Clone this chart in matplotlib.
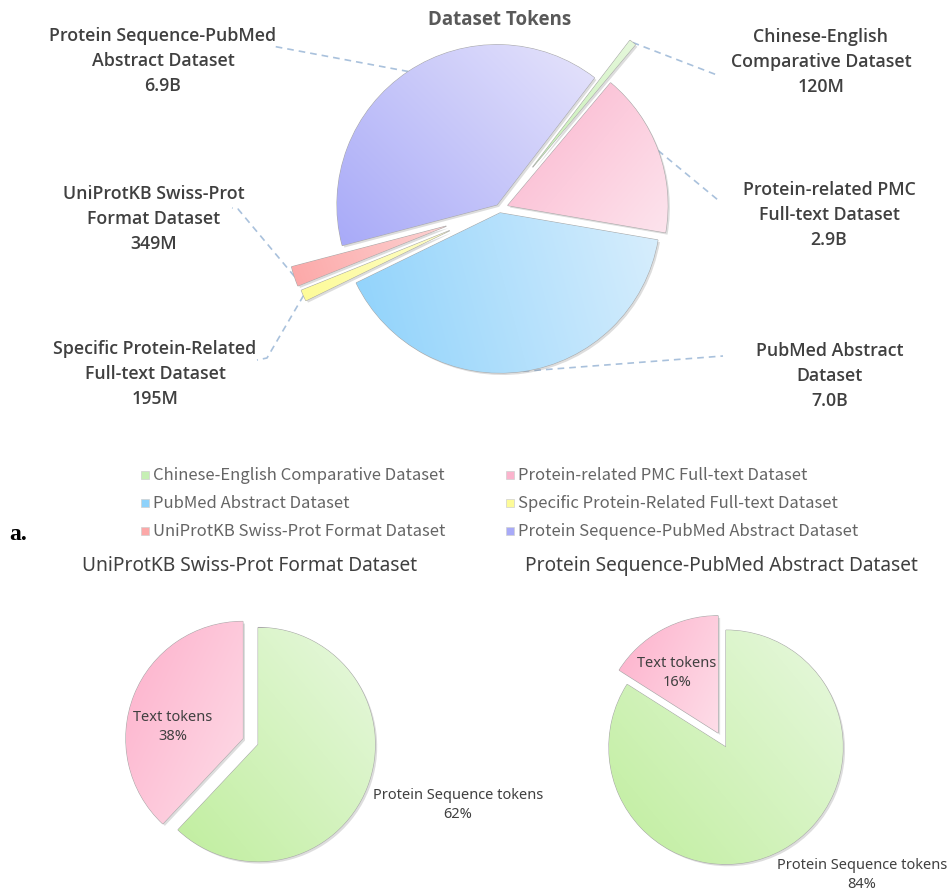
import numpy as np
import matplotlib
matplotlib.use('Agg')
import matplotlib.pyplot as plt
from matplotlib import patheffects as pe
from matplotlib.colors import to_rgb
from matplotlib.patches import Rectangle

plt.rcParams['font.family'] = ['Noto Sans CJK SC', 'DejaVu Sans']

# ---------------- data ----------------
datasets = ["Chinese-English Comparative Dataset",
            "Protein-related PMC Full-text Dataset",
            "PubMed Abstract Dataset",
            "Specific Protein-Related Full-text Dataset",
            "UniProtKB Swiss-Prot Format Dataset",
            "Protein Sequence-PubMed Abstract Dataset"]
tokens_billion = [0.12, 2.9, 7.0, 0.195, 0.349, 6.9]
token_labels = ["120M", "2.9B", "7.0B", "195M", "349M", "6.9B"]
label_names = ["Chinese-English\nComparative Dataset",
               "Protein-related PMC\nFull-text Dataset",
               "PubMed Abstract\nDataset",
               "Specific Protein-Related\nFull-text Dataset",
               "UniProtKB Swiss-Prot\nFormat Dataset",
               "Protein Sequence-PubMed\nAbstract Dataset"]

split_categories = ["Text tokens", "Protein Sequence tokens"]
uniprot_split = [38, 62]
psp_split = [16, 84]
split_titles = ["UniProtKB Swiss-Prot Format Dataset",
                "Protein Sequence-PubMed Abstract Dataset"]

# ---------------- style ----------------
H = 892
def Y(y):
    return H - y

dark_top = ['#c6efb4', '#fbb4cd', '#8ed2fb', '#fdfb98', '#fca8a8', '#a8aaf8']
light_top = ['#e6f8dc', '#fde4ed', '#d8eefd', '#fefdc8', '#fdd2d2', '#e6e4fb']
grad_ang_top = [45, -40, 15, 20, 20, 45]
explode_top = [0.33, 0.055, 0.028, 0.34, 0.35, 0.028]
top_center = (499.5, Y(208.5))
top_r = 160

label_pos = [(821, 61), (829, 214), (830, 375), (155, 373), (154, 218), (163, 60)]
line_ends = [[(717, 75)], [(718, 200)], [(723, 356)], [(267, 358), (257, 360)],
             [(238, 209), (232, 208)], [(272, 46)]]

split_dark = ['#fdb0cb', '#c0ee9e']
split_light = ['#fedde8', '#e8f8df']
split_ang = [-25, 40]

text_col = '#404040'
latin = ['Noto Sans', 'DejaVu Sans']
latin_bold = ['Open Sans', 'DejaVu Sans']

fig = plt.figure(figsize=(9.52, 8.92), dpi=100)
ax = fig.add_axes([0, 0, 1, 1])

shadow = [pe.SimplePatchShadow(offset=(1.5, -1.5), shadow_rgbFace='#666666', alpha=0.22), pe.Normal()]
wp = dict(edgecolor='#ababab', linewidth=0.8, path_effects=shadow)


def grad_fill(w, c1, c2, ang, z=3):
    ext = w.get_path().get_extents()
    x0, y0, x1, y1 = ext.x0, ext.y0, ext.x1, ext.y1
    n = 160
    X, Yg = np.meshgrid(np.linspace(x0, x1, n), np.linspace(y0, y1, n))
    a = np.radians(ang)
    t = X * np.cos(a) + Yg * np.sin(a)
    t = (t - t.min()) / max(t.max() - t.min(), 1e-9)
    rgb = (1 - t)[..., None] * np.array(to_rgb(c1)) + t[..., None] * np.array(to_rgb(c2))
    im = ax.imshow(rgb, extent=(x0, x1, y0, y1), origin='lower', zorder=z,
                   interpolation='bilinear', aspect='auto')
    im.set_clip_path(w)


def explode(wedges, fracs, center, r):
    for w, e in zip(wedges, fracs):
        m = np.radians((w.theta1 + w.theta2) / 2)
        w.set_center((center[0] + e * r * np.cos(m), center[1] + e * r * np.sin(m)))


# ---------------- top pie ----------------
wedges, _ = ax.pie(tokens_billion, colors=dark_top, startangle=52.5, counterclock=False,
                   center=top_center, radius=top_r, wedgeprops=wp)
explode(wedges, explode_top, top_center, top_r)
for w, c1, c2, ang in zip(wedges, dark_top, light_top, grad_ang_top):
    w.set_zorder(2)
    grad_fill(w, c1, c2, ang)

for w, name, val, pos, ends in zip(wedges, label_names, token_labels, label_pos, line_ends):
    m = np.radians((w.theta1 + w.theta2) / 2)
    sx = w.center[0] + w.r * np.cos(m)
    sy = w.center[1] + w.r * np.sin(m)
    xs = [sx] + [p[0] for p in ends]
    ys = [sy] + [Y(p[1]) for p in ends]
    ax.plot(xs, ys, ls=(0, (4, 3)), color='#a9c1dc', lw=1.2, zorder=1)
    ax.text(pos[0], Y(pos[1]) - 1, name + "\n" + val, ha='center', va='center',
            fontsize=12.8, fontweight=600, color=text_col, linespacing=1.52, zorder=6,
            family=latin_bold)

ax.text(500, Y(20), "Dataset Tokens", ha='center', va='center', fontsize=13.5,
        fontweight='bold', color='#595959', family=latin_bold)

# ---------------- legend ----------------
leg_cols = [141, 506]
leg_rows = [475, 503, 531]
for i, (name, col) in enumerate(zip(datasets, dark_top)):
    cx = leg_cols[i % 2]
    cy = leg_rows[i // 2]
    ax.add_patch(Rectangle((cx, Y(cy) - 4), 8, 8, facecolor=col, edgecolor='#d0d0d0', lw=0.5))
    ax.text(cx + 12, Y(cy), name, ha='left', va='center', fontsize=12, color='#656565')

ax.text(9, Y(534), "a.", ha='left', va='center', fontsize=17, fontweight='bold',
        family='Liberation Serif', color='black')

# ---------------- bottom pies ----------------
split_centers = [(250.5, Y(741.5)), (722, Y(740))]
split_r = 117
split_vals = [uniprot_split, psp_split]
title_x = [250, 721]
in_pos = [(173, 727), (677, 673)]
out_pos = [(458, 805), (862, 875)]
for vals, c, tx, ip, op, title in zip(split_vals, split_centers, title_x, in_pos, out_pos, split_titles):
    ws, _ = ax.pie(vals, colors=split_dark, startangle=90, counterclock=True,
                   center=c, radius=split_r, wedgeprops=wp)
    explode(ws, [0.07, 0.07], c, split_r)
    for w, c1, c2, ang in zip(ws, split_dark, split_light, split_ang):
        w.set_zorder(2)
        grad_fill(w, c1, c2, ang)
    ax.text(tx, Y(566), title, ha='center', va='center', fontsize=13.8, color=text_col,
            family=latin)
    ax.text(ip[0], Y(ip[1]), f"{split_categories[0]}\n{vals[0]}%", ha='center', va='center',
            fontsize=10.5, color=text_col, linespacing=1.45, zorder=6, family=latin)
    ax.text(op[0], Y(op[1]), f"{split_categories[1]}\n{vals[1]}%", ha='center', va='center',
            fontsize=10.5, color=text_col, linespacing=1.45, zorder=6, family=latin)

ax.set_xlim(0, 952)
ax.set_ylim(0, 892)
ax.set_aspect('auto')
ax.axis('off')
fig.savefig('out.png', dpi=100)
